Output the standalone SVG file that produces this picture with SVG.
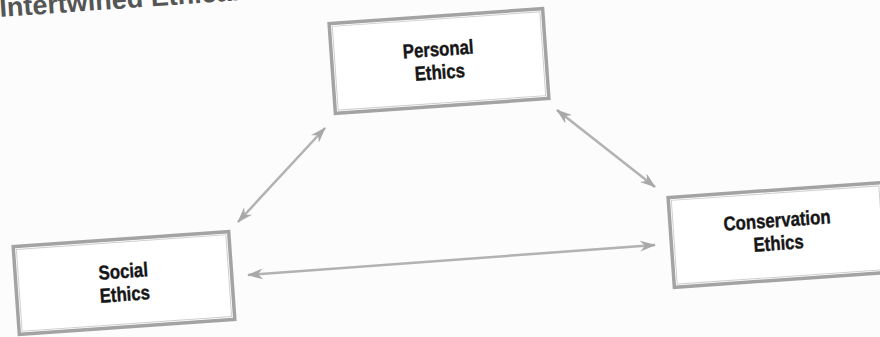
<svg xmlns="http://www.w3.org/2000/svg" width="880" height="337" viewBox="0 0 880 337">
  <defs>
    <style>
      .box { fill: #ffffff; stroke: #a3a3a3; stroke-width: 3.5; }
      .inner { fill: none; stroke: #d0d0d0; stroke-width: 1; }
      .lbl { font-family: "Liberation Sans", "DejaVu Sans", sans-serif; font-weight: bold; font-size: 20px; fill: #161616; stroke: #161616; stroke-width: 0.4; text-anchor: middle; }
      .title { font-family: "Liberation Sans", "DejaVu Sans", sans-serif; font-weight: bold; font-size: 27px; fill: #555555; }
      .conn { stroke: #b2b2b2; stroke-width: 2.5; fill: none; marker-start: url(#ah); marker-end: url(#ah); }
    </style>
    <marker id="ah" viewBox="0 0 16 12" refX="15" refY="6" markerWidth="16" markerHeight="12" markerUnits="userSpaceOnUse" orient="auto-start-reverse">
      <path d="M0,0.5 L16,6 L0,11.5 L5,6 z" fill="#a8a8a8"/>
    </marker>
  </defs>
  <rect x="0" y="0" width="880" height="337" fill="#fcfcfc"/>

  <text class="title" x="0" y="17" transform="rotate(-4 0 17)">Intertwined Ethical</text>

  <g id="connectors">
    <line class="conn" x1="325" y1="128" x2="238" y2="222"/>
    <line class="conn" x1="557" y1="110" x2="655" y2="187"/>
    <line class="conn" x1="248" y1="275" x2="655" y2="245"/>
  </g>

  <g id="personal" transform="translate(439 61) rotate(-4)">
    <rect class="box" x="-107" y="-45" width="214" height="90"/>
    <rect class="inner" x="-104" y="-42" width="208" height="84"/>
    <g transform="scale(0.84 1)">
      <text class="lbl" x="0" y="-5">Personal</text>
      <text class="lbl" x="0" y="18">Ethics</text>
    </g>
  </g>

  <g id="social" transform="translate(124 283) rotate(-4)">
    <rect class="box" x="-108" y="-44" width="216" height="88"/>
    <rect class="inner" x="-105" y="-41" width="210" height="82"/>
    <g transform="scale(0.84 1)">
      <text class="lbl" x="0" y="-5">Social</text>
      <text class="lbl" x="0" y="18">Ethics</text>
    </g>
  </g>

  <g id="conservation" transform="translate(778 235) rotate(-4)">
    <rect class="box" x="-107" y="-45" width="214" height="90"/>
    <rect class="inner" x="-104" y="-42" width="208" height="84"/>
    <g transform="scale(0.84 1)">
      <text class="lbl" x="0" y="-8">Conservation</text>
      <text class="lbl" x="0" y="15">Ethics</text>
    </g>
  </g>
</svg>
